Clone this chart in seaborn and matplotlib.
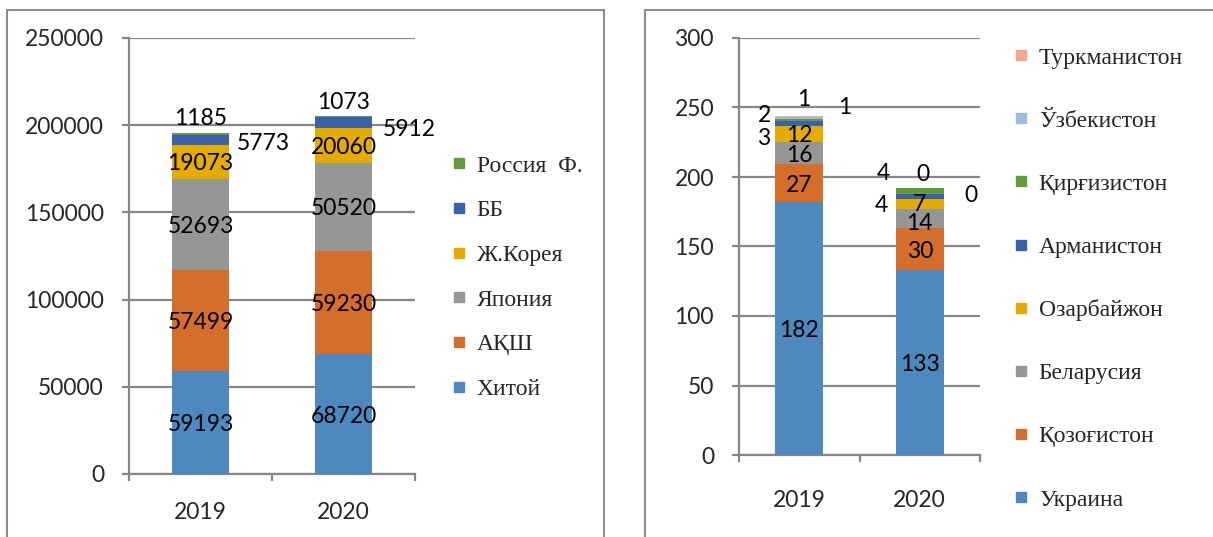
import matplotlib
matplotlib.use("Agg")
import matplotlib.pyplot as plt
import matplotlib.patches as mpatches
from matplotlib.lines import Line2D
import seaborn as sns

# ---- data ----
years = ["2019", "2020"]

left_countries = ["Хитой", "АҚШ", "Япония", "Ж.Корея", "ББ", "Россия  Ф."]
left_values = {
    "Хитой": [59193, 68720],
    "АҚШ": [57499, 59230],
    "Япония": [52693, 50520],
    "Ж.Корея": [19073, 20060],
    "ББ": [5773, 5912],
    "Россия  Ф.": [1185, 1073],
}

right_countries = ["Украина", "Қозоғистон", "Беларусия", "Озарбайжон",
                   "Арманистон", "Қирғизистон", "Ўзбекистон", "Туркманистон"]
right_values = {
    "Украина": [182, 133],
    "Қозоғистон": [27, 30],
    "Беларусия": [16, 14],
    "Озарбайжон": [12, 7],
    "Арманистон": [3, 4],
    "Қирғизистон": [2, 4],
    "Ўзбекистон": [1, 0],
    "Туркманистон": [1, 0],
}

left_ticks = [0, 50000, 100000, 150000, 200000, 250000]
right_ticks = [0, 50, 100, 150, 200, 250, 300]

# ---- styles ----
colors = ["#4d89be", "#d56d2c", "#969696", "#e5ac00", "#3b60ac", "#629a40",
          "#9bbbe1", "#f1a88a"]
GRID = "#878787"
W, H = 1213, 537

# label offsets (pixels) for small segments that sit outside the bar
left_offsets = {
    (0, "ББ"): (63, -3), (1, "ББ"): (66, -7),
    (0, "Россия  Ф."): (0, 16), (1, "Россия  Ф."): (0, 14),
}
right_offsets = {
    (0, "Туркманистон"): (4, 17), (1, "Туркманистон"): (3, 14),
    (0, "Ўзбекистон"): (45, 10), (1, "Ўзбекистон"): (51, -7),
    (0, "Қирғизистон"): (-35, 5), (1, "Қирғизистон"): (-36, 17),
    (0, "Арманистон"): (-36, -15), (1, "Арманистон"): (-38, -9),
    (1, "Озарбайжон"): (0, 0), (1, "Беларусия"): (0, -5),
}

sns.set_style("white")
plt.rcParams["font.family"] = ["Lato", "DejaVu Sans"]


def stacked(ax, countries, values, offsets, ticks, ylim, xpad):
    bottoms = [0, 0]
    for k, name in enumerate(countries):
        vals = values[name]
        sns.barplot(x=years, y=vals, bottom=bottoms, color=colors[k],
                    width=0.4, saturation=1, errorbar=None, ax=ax, zorder=3,
                    linewidth=0)
        for i, v in enumerate(vals):
            mid = bottoms[i] + v / 2
            off = offsets.get((i, name), (0, -2))
            ax.annotate(str(v), xy=(i, mid), xytext=off,
                        textcoords="offset pixels", ha="center", va="center",
                        fontsize=16.5, color="black", zorder=5)
        bottoms = [b + v for b, v in zip(bottoms, vals)]

    ax.set_xlim(-0.5, 1.5)
    ax.set_ylim(*ylim)
    ax.set_yticks(ticks)
    ax.set_yticklabels([str(t) for t in ticks])
    ax.set_xlabel("")
    ax.set_ylabel("")
    ax.yaxis.grid(True, color=GRID, lw=1.6, zorder=0)
    ax.xaxis.grid(False)
    for s in ["top", "right"]:
        ax.spines[s].set_visible(False)
    for s in ["left", "bottom"]:
        ax.spines[s].set_color(GRID)
        ax.spines[s].set_linewidth(1.6)
    ax.tick_params(axis="y", length=5, width=1.6, color=GRID, pad=13,
                   labelsize=16.5, left=True)
    ax.tick_params(axis="x", which="major", length=0, pad=xpad, labelsize=16.5)
    ax.set_xticks([-0.5, 0.5, 1.5], minor=True)
    ax.tick_params(axis="x", which="minor", length=5, width=1.6, color=GRID,
                   bottom=True, direction="out")


fig = plt.figure(figsize=(W / 100, H / 100), dpi=100)

# panel frames
fig.patches.append(mpatches.Rectangle((7 / W, -0.05), (604 - 7) / W, 1.05 - 10 / H,
                                      transform=fig.transFigure, fill=False,
                                      edgecolor="#8c8c8c", lw=1.5))
fig.patches.append(mpatches.Rectangle((645 / W, -0.05), 0.5, 1.05 - 10 / H,
                                      transform=fig.transFigure, fill=False,
                                      edgecolor="#8c8c8c", lw=1.5))

ax1 = fig.add_axes([129 / W, 1 - 474 / H, (415 - 129) / W, (474 - 38) / H])
ax2 = fig.add_axes([739 / W, 1 - 455 / H, (980 - 739) / W, (455 - 38) / H])

stacked(ax1, left_countries, left_values, left_offsets, left_ticks, (0, 250000), 20)
stacked(ax2, right_countries, right_values, right_offsets, right_ticks, (0, 300), 25)


def legend_handles(countries):
    hs = [Line2D([], [], marker="s", ls="", markersize=7.5,
                 markerfacecolor=colors[k], markeredgecolor=colors[k])
          for k in range(len(countries))]
    return hs[::-1], countries[::-1]


h, l = legend_handles(left_countries)
fig.legend(h, l, loc="upper left", bbox_to_anchor=(452 / W, 1 - 155 / H),
           frameon=False, prop={"family": "Liberation Serif", "size": 17},
           handlelength=0.6, handletextpad=0.45, labelspacing=0.98,
           borderaxespad=0, borderpad=0)

h, l = legend_handles(right_countries)
fig.legend(h, l, loc="upper left", bbox_to_anchor=(1014 / W, 1 - 47 / H),
           frameon=False, prop={"family": "Liberation Serif", "size": 17},
           handlelength=0.6, handletextpad=0.45, labelspacing=1.76,
           borderaxespad=0, borderpad=0)

fig.savefig("out.png", dpi=100)
